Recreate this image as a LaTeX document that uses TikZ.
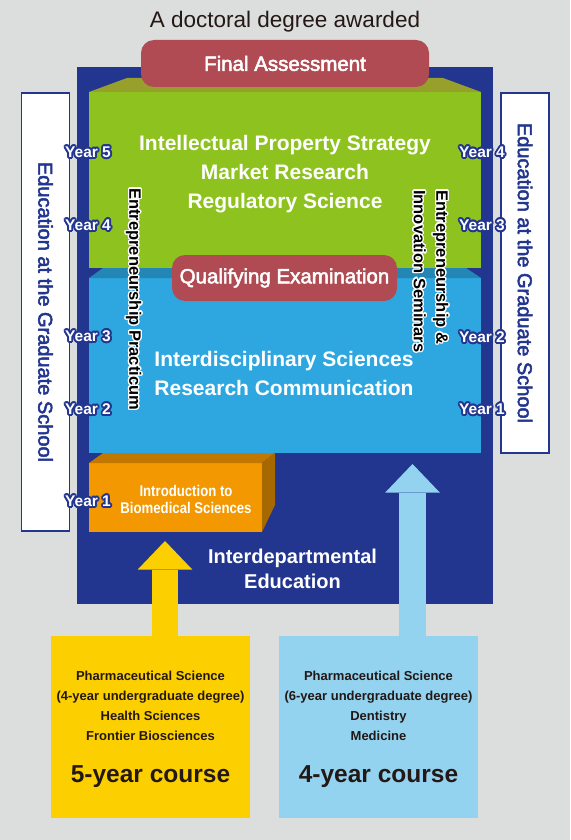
\documentclass[tikz,border=0pt]{standalone}
\usepackage{fontspec}
\setmainfont{Liberation Sans}
\newfontfamily\medfont{Liberation Sans}[FakeBold=2.5]
\newfontfamily\narrowfont{Liberation Sans}[FakeStretch=0.85]
\usepackage[copies]{contour}
\usetikzlibrary{positioning,arrows.meta,calc}
\definecolor{bg}{HTML}{DCDDDD}
\definecolor{navy}{HTML}{22358F}
\definecolor{leaf}{HTML}{8DC21F}
\definecolor{leaftop}{HTML}{98A02C}
\definecolor{sky}{HTML}{2EA7E0}
\definecolor{skytop}{HTML}{2386B5}
\definecolor{amber}{HTML}{F39800}
\definecolor{ambertop}{HTML}{C27800}
\definecolor{amberside}{HTML}{A86800}
\definecolor{rose}{HTML}{B04B53}
\definecolor{sun}{HTML}{FCD000}
\definecolor{ice}{HTML}{93D3EF}
\definecolor{ink}{HTML}{231815}
\newcommand{\fs}[2]{\fontsize{#1}{#2}\selectfont}
\newcommand{\yr}[1]{\contourlength{1.8pt}\contour{navy}{#1}}
\newcommand{\wl}[1]{\contourlength{1.3pt}\contour{white}{#1}}
\tikzset{
  face/.style ={inner sep=0pt, outer sep=0pt},
  pill/.style ={fill=rose, rounded corners=13pt, inner sep=0pt, text=white, font=\medfont\fs{20.5}{24}},
  head/.style ={text=white, align=center, inner sep=0pt, font=\bfseries\fs{21}{29}},
  yrs/.style  ={text=white, inner sep=0pt, font=\bfseries\fs{15.5}{15}},
  vtx/.style  ={rotate=-90, anchor=west, inner sep=0pt, text=black, font=\bfseries\fs{16.5}{20}},
  grad/.style ={rotate=-90, draw=navy, line width=1.3pt, fill=white, minimum height=48pt, inner sep=0pt, text=navy, font=\medfont\fs{20}{24}},
  crs/.style  ={text=ink, align=center, inner sep=0pt, font=\bfseries\fs{13}{20}},
  big/.style  ={text=ink, inner sep=0pt, font=\bfseries\fs{24.5}{28}},
  up/.style   ={line width=26.5pt, -{Triangle[length=28.5pt,width=54.5pt,line width=0pt]}},
}
\begin{document}
\begin{tikzpicture}[x=1pt,y=-1pt]
  \fill[bg] (0,0) rectangle (570,840);
  \useasboundingbox (0,0) rectangle (570,840);

  \node[text=ink,inner sep=0pt,font=\fs{22.5}{26}] (title) at (285,22) {A doctoral degree awarded};
  \node[face,fill=navy,minimum width=416pt,minimum height=537pt] (dept) at (285,335.5) {};

  % blocks
  \node[face,fill=leaf,minimum width=392pt,minimum height=176pt] (ipbox) at (285,180) {};
  \fill[leaftop] (ipbox.north west) -- ++(38,-14) -- ($(ipbox.north east)+(-38,-14)$) -- (ipbox.north east) -- cycle;
  \node[face,fill=sky,minimum width=392pt,minimum height=175pt] (idbox) at (285,365.5) {};
  \fill[skytop] (idbox.north west) -- ++(14,-10) -- ($(idbox.north east)+(-15,-10)$) -- (idbox.north east) -- cycle;
  \node[face,fill=amber,minimum width=173pt,minimum height=69pt] (intro) at (175.5,497.5) {};
  \fill[ambertop] (intro.north west) -- ++(14,-10) -- ($(intro.north east)+(13,-10)$) -- (intro.north east) -- cycle;
  \fill[amberside] (intro.north east) -- ++(13,-10) -- ++(0,52) -- (intro.south east) -- cycle;

  \node[head] (ipt) at (285,174) {Intellectual Property Strategy\\Market Research\\Regulatory Science};
  \node[head] (idt) at (284,373.5) {Interdisciplinary Sciences\\Research Communication};
  \node[text=white,align=center,inner sep=0pt,font=\narrowfont\bfseries\fs{15.5}{17}] (introt) at (186,499.5) {Introduction to\\Biomedical Sciences};
  \node[head,font=\bfseries\fs{20}{25}] (idet) at (292.5,568.5) {Interdepartmental\\Education};

  \node[pill,minimum width=288pt,minimum height=47pt] (final) at (285,63.5) {Final Assessment};
  \node[pill,minimum width=225pt,minimum height=46pt] (qual) at (284.5,278) {Qualifying Examination};

  % seminars
  \node[vtx] (prac) at (133,188) {\wl{Entrepreneurship Practicum}};
  \node[vtx] (sem1) at (440,190) {\wl{Entrepreneurship \&}};
  \node[vtx] (sem2) at (419,190) {\wl{Innovation Seminars}};

  \node[grad,minimum width=438pt] (gsleft) at (45.5,312) {Education at the Graduate School};
  \node[grad,minimum width=360pt] (gsright) at (525,273) {Education at the Graduate School};

  % years
  \foreach \n/\y in {5/153,4/226,3/337,2/410,1/502}
    \node[yrs] (yl\n) at (88,\y) {\yr{Year \n}};
  \foreach \n/\y in {4/153,3/226,2/338,1/410}
    \node[yrs] (yr\n) at (482,\y) {\yr{Year \n}};

  % courses
  \node[face,fill=sun,minimum width=199pt,minimum height=182pt] (five) at (150.5,727) {};
  \node[face,fill=ice,minimum width=199pt,minimum height=182pt] (four) at (378.5,727) {};
  \node[crs] (fivel) at (150.5,706) {Pharmaceutical Science\\(4-year undergraduate degree)\\Health Sciences\\Frontier Biosciences};
  \node[big] (fivec) at (150.5,777) {5-year course};
  \node[crs] (fourl) at (378.5,706) {Pharmaceutical Science\\(6-year undergraduate degree)\\Dentistry\\Medicine};
  \node[big] (fourc) at (378.5,777) {4-year course};

  \coordinate (tip5) at (165,541);
  \coordinate (tip4) at (412.5,464);
  \draw[up,sun] (tip5 |- five.north) -- (tip5);
  \draw[up,ice] (tip4 |- four.north) -- (tip4);
\end{tikzpicture}
\end{document}
